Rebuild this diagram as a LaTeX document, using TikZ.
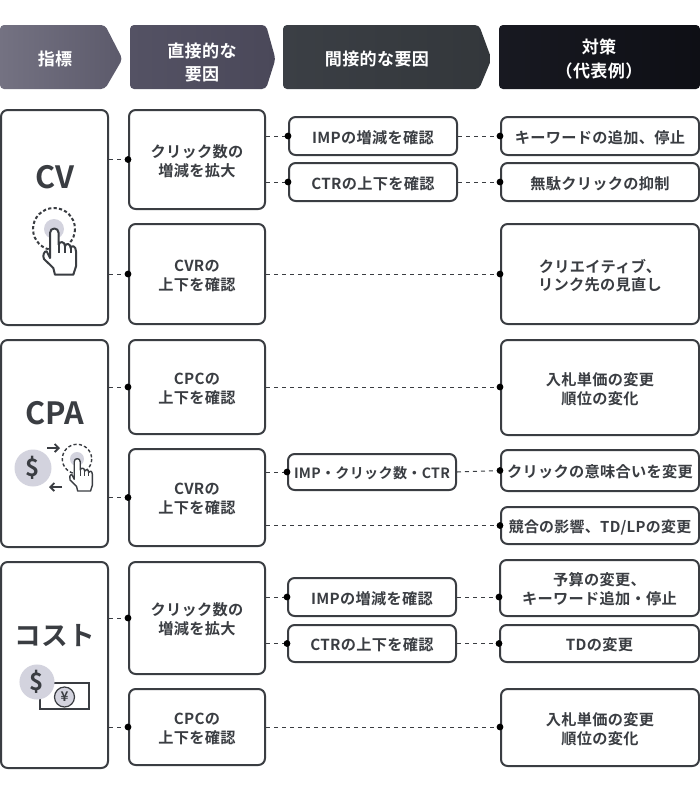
\documentclass[tikz,border=0pt]{standalone}
\usepackage{fontspec}
\setmainfont{Noto Sans CJK JP}[BoldFont={Noto Sans CJK JP Bold}]
\newfontfamily\labelfont[LetterSpace=2]{Noto Sans CJK JP}[BoldFont={Noto Sans CJK JP Bold}]
\usetikzlibrary{arrows.meta}
\definecolor{ink}{HTML}{3A3D42}
\definecolor{pale}{HTML}{D3D3DE}
\newcommand{\bx}[6]{%
  \pgfmathsetmacro{\bxw}{(#4-#2)*0.75}%
  \pgfmathsetmacro{\bxh}{(#5-#3)*0.75}%
  \node[boxn,minimum width=\bxw pt,minimum height=\bxh pt] (#1) at ({(#2+#4)/2},{(#3+#5)/2}) {};
  \node[boxtext] (#1t) at ([yshift=-1.2pt]#1.center) {#6};}
\tikzset{
  x=0.75pt,y=-0.75pt,
  boxn/.style={draw=ink,line width=1.5pt,rounded corners=5pt,fill=white,inner sep=0pt},
  boxtext/.style={inner sep=0pt,align=center,text=ink,font=\fontsize{11.4}{14.2}\selectfont\labelfont\bfseries},
  link/.style={draw=ink,line width=0.75pt,dash pattern=on 3pt off 3pt,
     -{Circle[length=5pt,width=5pt,black]},shorten >=-2.5pt},
  headtext/.style={text=white,align=center,inner sep=0pt,font=\fontsize{12.8}{17.6}\selectfont\labelfont\bfseries},
  bigtext/.style={text=ink,inner sep=0pt,font=\fontsize{23}{26}\selectfont\bfseries},
  coin/.style={circle,fill=pale,text=ink,inner sep=0pt,font=\fontsize{18}{20}\selectfont\bfseries},
  pics/hand/.style={code={
    \begin{scope}[x=.25pt,y=-.25pt]
      \draw[ink,line width=#1,dash pattern=on 2.4pt off 1.7pt] (0,0) circle[radius=63];
      \fill[pale] (0,0) circle[radius=30];
      \draw[ink,line width=#1,fill=white,line join=round]
        (-12,87) -- (-12,12) .. controls (-12,-6) and (14,-6) .. (14,12) -- (14,47)
        .. controls (16,36) and (33,36) .. (33,52)
        .. controls (34,42) and (50,42) .. (50,57)
        .. controls (52,48) and (66,50) .. (66,67) -- (66,112) -- (58,137) -- (3,137) -- (-2,117) -- (-30,90)
        .. controls (-36,80) and (-28,64) .. (-22,67) -- cycle;
      \draw[ink,line width=#1] (14,47) -- (14,72) (33,52) -- (33,72) (50,57) -- (50,72);
    \end{scope}}},
}
\begin{document}
\begin{tikzpicture}
\useasboundingbox (0,0) rectangle (700,790);
% headers
\path[left color={rgb,255:red,116;green,114;blue,130},right color={rgb,255:red,92;green,90;blue,107},rounded corners=3pt]
  (0,25) -- (105,25) -- (122.5,59) -- (105,89) -- (0,89) -- cycle;
\path[left color={rgb,255:red,84;green,82;blue,100},right color={rgb,255:red,74;green,72;blue,89},rounded corners=3pt]
  (130,25) -- (266,25) -- (275.5,59) -- (266,89) -- (130,89) -- cycle;
\path[left color={rgb,255:red,59;green,63;blue,69},right color={rgb,255:red,51;green,55;blue,59},rounded corners=3pt]
  (283,25) -- (479,25) -- (491.5,59) -- (479,89) -- (283,89) -- cycle;
\path[left color={rgb,255:red,24;green,25;blue,33},right color={rgb,255:red,14;green,15;blue,21},rounded corners=3pt]
  (499,25) rectangle (700,89);
\node[headtext] (h1) at (55,59) {指標};
\node[headtext] (h2) at (202,62.5) {直接的な\\要因};
\node[headtext] (h3) at (377,59) {間接的な要因};
\node[headtext] (h4) at (599,59) {対策\\（代表例）};
% indicator boxes
\bx{a1}{1}{110}{108}{325}{}
\bx{a2}{1}{340}{108}{547}{}
\bx{a3}{1}{562}{108}{768}{}
% direct
\bx{d1}{129}{110}{265}{209}{クリック数の\\増減を拡大}
\bx{d2}{129}{224}{265}{324}{CVRの\\上下を確認}
\bx{d3}{129}{340}{265}{434}{CPCの\\上下を確認}
\bx{d4}{129}{449}{265}{546}{CVRの\\上下を確認}
\bx{d5}{129}{562}{265}{674}{クリック数の\\増減を拡大}
\bx{d6}{129}{689}{265}{765}{CPCの\\上下を確認}
% indirect
\bx{i1}{289}{117}{457}{155}{IMPの増減を確認}
\bx{i2}{289}{163}{457}{201}{CTRの上下を確認}
\bx{i3}{288}{454}{456}{490}{\fontsize{10.6}{14}\selectfont IMP・クリック数・CTR}
\bx{i4}{288}{578}{456}{616}{IMPの増減を確認}
\bx{i5}{288}{625}{456}{662}{CTRの上下を確認}
% measures
\bx{m1}{501}{117}{699}{155}{キーワードの追加、停止}
\bx{m2}{501}{163}{699}{201}{無駄クリックの抑制}
\bx{m3}{501}{224}{699}{324}{クリエイティブ、\\リンク先の見直し}
\bx{m4}{501}{340}{699}{435}{入札単価の変更\\順位の変化}
\bx{m5}{501}{450}{699}{491}{クリックの意味合いを変更}
\bx{m6}{501}{507}{699}{544}{\fontsize{11.2}{14}\selectfont 競合の影響、TD/LPの変更}
\bx{m7}{500}{560}{699}{616}{予算の変更、\\キーワード追加・停止}
\bx{m8}{500}{625}{699}{662}{TDの変更}
\bx{m9}{501}{689}{699}{766}{入札単価の変更\\順位の変化}
% indicator labels
\node[bigtext] (t1) at (55,177) {CV};
\node[bigtext] (t2) at (55,413) {CPA};
\node[bigtext,font=\fontsize{20}{24}\selectfont\bfseries] (t3) at (55,636) {コスト};
% icons
\pic at (54,229) {hand=1.5pt};
\pic[scale=0.7] at (77,459) {hand=1.05pt};
\node[coin,minimum size=27.75pt] (c1) at (33,468) {\$};
\draw[ink,line width=1.4pt,-{Straight Barb[length=3pt,width=6pt]}] (47,448) -- (60,448);
\draw[ink,line width=1.4pt,-{Straight Barb[length=3pt,width=6pt]}] (62,487) -- (49,487);
\draw[ink,line width=0.9pt] (40,683) rectangle (89,709);
\node[coin,minimum size=26.3pt] (c2) at (37,682) {\$};
\node[circle,draw=ink,line width=0.9pt,fill=pale,text=ink,minimum size=15pt,inner sep=0pt,font=\fontsize{10}{11}\selectfont\bfseries] (yen) at (64.5,697) {¥};
% connectors
\draw[link] (a1.east |- d1) -- (d1.west);
\draw[link] (a1.east |- d2) -- (d2.west);
\draw[link] (a2.east |- d3) -- (d3.west);
\draw[link] (a2.east |- d4) -- (d4.west);
\draw[link] (a3.east |- d5) -- (d5.west);
\draw[link] (a3.east |- d6) -- (d6.west);
\draw[link] (d1.east |- i1) -- (i1.west);
\draw[link] (d1.east |- i2) -- (i2.west);
\draw[link] (d4.east |- i3) -- (i3.west);
\draw[link] (d5.east |- i4) -- (i4.west);
\draw[link] (d5.east |- i5) -- (i5.west);
\draw[link] (i1.east) -- (m1.west);
\draw[link] (i2.east) -- (m2.west);
\draw[link] (d2.east) -- (m3.west);
\draw[link] (d3.east) -- (m4.west |- d3);
\draw[link] (i3.east) -- (m5.west);
\draw[link] (d4.east |- m6) -- (m6.west);
\draw[link] (i4.east) -- (m7.west |- i4);
\draw[link] (i5.east) -- (m8.west);
\draw[link] (d6.east) -- (m9.west |- d6);
\end{tikzpicture}
\end{document}
